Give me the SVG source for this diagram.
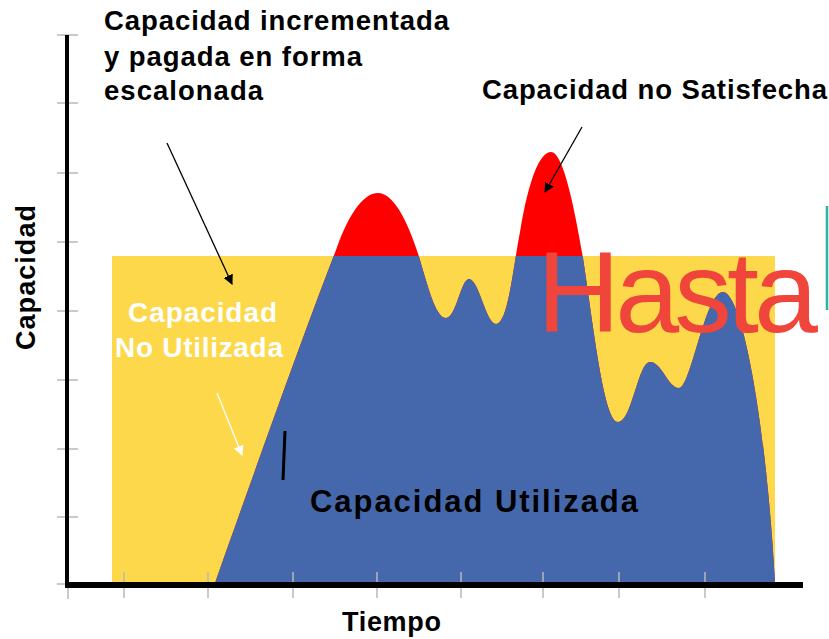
<svg xmlns="http://www.w3.org/2000/svg" width="829" height="639" viewBox="0 0 829 639">
<style>
.lbl{font-family:"Liberation Sans",Arial,sans-serif;font-weight:bold;}
.tick{stroke:#b8b8b8;stroke-width:1.5;}
</style>
<defs>
<marker id="ah" markerWidth="10" markerHeight="10" refX="9" refY="5" orient="auto" markerUnits="userSpaceOnUse" viewBox="0 0 10 10"><path d="M0,0 L10,5 L0,10 z" fill="#000"/></marker>
<marker id="ahw" markerWidth="10" markerHeight="10" refX="9" refY="5" orient="auto" markerUnits="userSpaceOnUse" viewBox="0 0 10 10"><path d="M0,0 L10,5 L0,10 z" fill="#fff"/></marker>
<clipPath id="below"><rect x="0" y="256" width="829" height="330"/></clipPath>
<path id="demand" d="M215 583 C255 470 305 330 336 250 C350 210 365 193 378 193 C393 193 408 220 420 260 C430 295 437 318 446 318 C456 318 461 279 469 279 C479 279 486 324 496 324 C508 324 513 268 520 232 C529 178 540 152 551 152 C563 152 574 205 583 258 C594 330 604 422 618 422 C632 422 638 362 650 362 C662 362 668 388 679 388 C691 388 705 292 723 292 C742 292 766 420 775 583 Z"/>
</defs>
<g id="capacity-area">
<rect x="112" y="256" width="663" height="327" fill="#FCD84A"/>
</g>
<g id="unmet">
<use href="#demand" fill="#FF0000"/>
</g>
<g id="used">
<use href="#demand" fill="#4568AD" clip-path="url(#below)"/>
</g>
<g id="axes">
<g class="tick">
<line x1="57" y1="35" x2="78" y2="35"/><line x1="57" y1="103" x2="78" y2="103"/><line x1="57" y1="173" x2="78" y2="173"/><line x1="57" y1="242" x2="78" y2="242"/><line x1="57" y1="311" x2="78" y2="311"/><line x1="57" y1="380" x2="78" y2="380"/><line x1="57" y1="449" x2="78" y2="449"/><line x1="57" y1="517" x2="78" y2="517"/><line x1="57" y1="584" x2="78" y2="584"/>
<line x1="68" y1="585" x2="68" y2="599"/><line x1="124" y1="572" x2="124" y2="598"/><line x1="208" y1="572" x2="208" y2="598"/><line x1="293" y1="572" x2="293" y2="598"/><line x1="377" y1="572" x2="377" y2="598"/><line x1="461" y1="572" x2="461" y2="598"/><line x1="543" y1="572" x2="543" y2="598"/><line x1="619" y1="572" x2="619" y2="598"/><line x1="705" y1="572" x2="705" y2="598"/>
</g>
<line x1="67" y1="35" x2="67" y2="587" stroke="#000" stroke-width="4"/>
<line x1="65" y1="585" x2="803" y2="585" stroke="#000" stroke-width="6"/>
</g>
<g id="connectors">
<line x1="167" y1="143" x2="232" y2="284" stroke="#000" stroke-width="1.3" marker-end="url(#ah)"/>
<line x1="582" y1="127" x2="545" y2="192" stroke="#000" stroke-width="1.3" marker-end="url(#ah)"/>
<line x1="217" y1="393" x2="242" y2="455" stroke="#fff" stroke-width="1.3" marker-end="url(#ahw)"/>
<line x1="285" y1="431" x2="283" y2="480" stroke="#000" stroke-width="3"/>
</g>
<g id="labels">
<text class="lbl" x="104" y="30" font-size="27.5" textLength="345" fill="#000">Capacidad incrementada</text>
<text class="lbl" x="104" y="66" font-size="27.5" textLength="258" fill="#000">y pagada en forma</text>
<text class="lbl" x="104" y="100" font-size="27.5" textLength="159" fill="#000">escalonada</text>
<text class="lbl" x="482" y="99" font-size="27.5" textLength="345" fill="#000">Capacidad no Satisfecha</text>
<text class="lbl" x="128" y="322" font-size="28" textLength="149" fill="#fff">Capacidad</text>
<text class="lbl" x="115" y="357" font-size="28" textLength="168" fill="#fff">No Utilizada</text>
<text class="lbl" x="310" y="512" font-size="31" textLength="328" fill="#000">Capacidad Utilizada</text>
<text class="lbl" x="342" y="631" font-size="27" textLength="99" fill="#000">Tiempo</text>
<text class="lbl" transform="translate(35,350) rotate(-90)" font-size="27" textLength="145" fill="#000">Capacidad</text>
<text x="537" y="332" font-family="Liberation Sans, Arial, sans-serif" font-size="115" textLength="281" fill="#EF453B">Hasta</text>
</g>
<line x1="827" y1="206" x2="827" y2="310" stroke="#2BB3A6" stroke-width="2.5"/>
</svg>
